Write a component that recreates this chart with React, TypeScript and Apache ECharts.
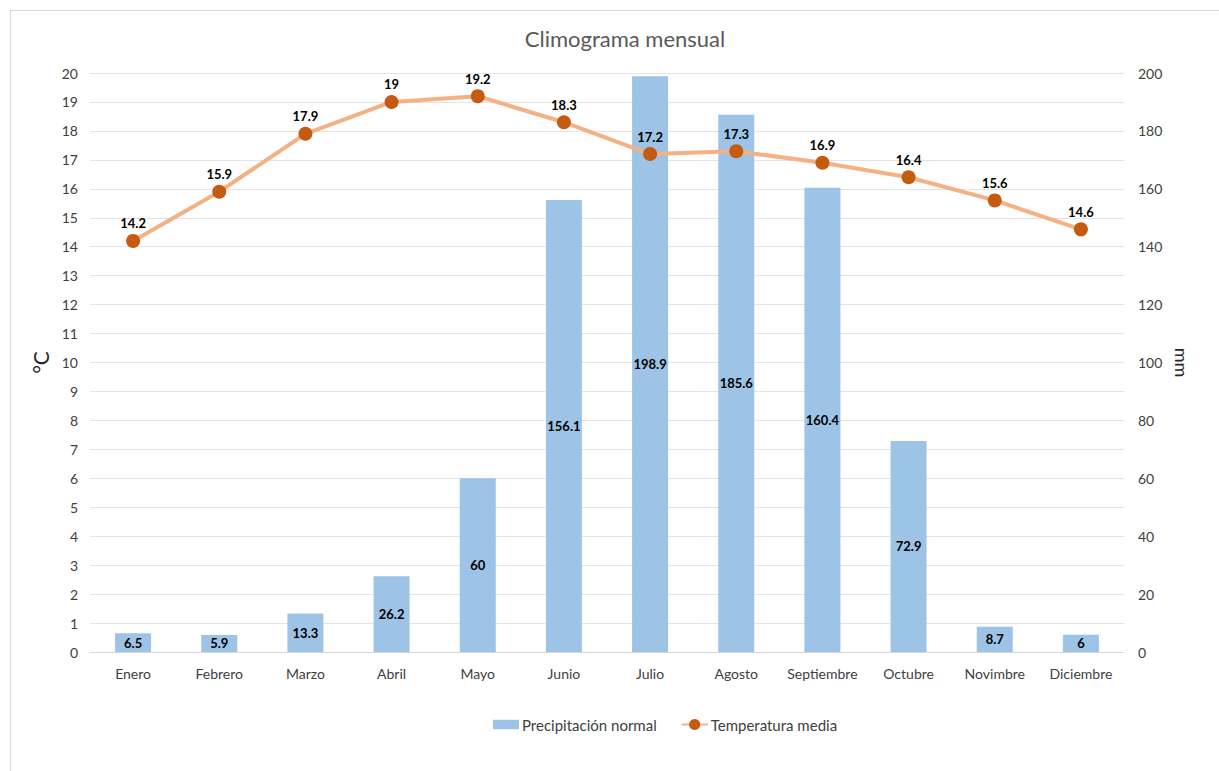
import React, { useEffect, useRef } from "react";
import * as echarts from "echarts";

const months = ["Enero", "Febrero", "Marzo", "Abril", "Mayo", "Junio", "Julio", "Agosto", "Septiembre", "Octubre", "Novimbre", "Diciembre"];
const precipitation = [6.5, 5.9, 13.3, 26.2, 60, 156.1, 198.9, 185.6, 160.4, 72.9, 8.7, 6];
const temperature = [14.2, 15.9, 17.9, 19, 19.2, 18.3, 17.2, 17.3, 16.9, 16.4, 15.6, 14.6];

const FONT = "Lato, 'Open Sans', sans-serif";

export default function App() {
  const ref = useRef<HTMLDivElement>(null);

  useEffect(() => {
    if (!ref.current) return;
    const chart = echarts.init(ref.current, null, { renderer: "svg" });
    chart.setOption({
      animation: false,
      backgroundColor: "#ffffff",
      textStyle: { fontFamily: FONT },
      graphic: [
        {
          type: "rect",
          shape: { x: 10.5, y: 10.5, width: 1215, height: 770 },
          style: { fill: "none", stroke: "#d9d9d9", lineWidth: 1 },
          silent: true,
        },
      ],
      title: {
        text: "Climograma mensual",
        left: 620,
        textAlign: "center",
        top: 22,
        textStyle: { fontFamily: FONT, fontSize: 22, fontWeight: "normal", color: "#595959" },
      },
      legend: {
        bottom: 34,
        left: 488,
        itemGap: 24,
        itemWidth: 26,
        itemHeight: 14,
        textStyle: { fontFamily: FONT, fontSize: 15, color: "#404040", padding: [0, 0, 0, -2] },
        data: [
          { name: "Precipitación normal", icon: "path://M0,0 H22 V8 H0 Z", itemStyle: { color: "#9dc3e6" } },
          { name: "Temperatura media" },
        ],
      },
      grid: { left: 90, right: 95, top: 73, bottom: 119 },
      xAxis: {
        type: "category",
        data: months,
        axisLine: { show: true, lineStyle: { color: "#d9d9d9" } },
        axisTick: { show: false },
        axisLabel: { interval: 0, fontFamily: FONT, fontSize: 14, color: "#404040", margin: 14 },
      },
      yAxis: [
        {
          type: "value",
          name: "°C",
          nameLocation: "middle",
          nameGap: 32,
          nameRotate: 90,
          nameTextStyle: { fontFamily: FONT, fontSize: 21, color: "#262626" },
          min: 0,
          max: 20,
          interval: 1,
          axisLine: { show: false },
          axisTick: { show: false },
          axisLabel: { fontFamily: FONT, fontSize: 14, color: "#404040", margin: 12 },
          splitLine: { lineStyle: { color: "#e4e4e4", width: 1 } },
        },
        {
          type: "value",
          name: "mm",
          nameLocation: "middle",
          nameGap: 36,
          nameRotate: -90,
          nameTextStyle: { fontFamily: FONT, fontSize: 18, color: "#262626" },
          min: 0,
          max: 200,
          interval: 20,
          axisLine: { show: false },
          axisTick: { show: false },
          axisLabel: { fontFamily: FONT, fontSize: 14, color: "#404040", margin: 14 },
          splitLine: { show: false },
        },
      ],
      series: [
        {
          name: "Precipitación normal",
          type: "bar",
          yAxisIndex: 1,
          data: precipitation,
          barWidth: 36,
          itemStyle: { color: "#9dc3e6" },
          label: {
            show: true,
            position: "inside",
            fontFamily: FONT,
            fontSize: 13,
            fontWeight: "bold",
            color: "#000000",
          },
        },
        {
          name: "Temperatura media",
          type: "line",
          yAxisIndex: 0,
          data: temperature,
          symbol: "circle",
          symbolSize: 14,
          lineStyle: { color: "#f4b183", width: 4 },
          itemStyle: { color: "#c55a11" },
          label: {
            show: true,
            position: "top",
            distance: 4,
            fontFamily: FONT,
            fontSize: 13,
            fontWeight: "bold",
            color: "#000000",
          },
          z: 3,
        },
      ],
    });
    return () => chart.dispose();
  }, []);

  return (
    <div
      ref={ref}
      style={{ position: "fixed", left: 0, top: 0, width: 1219, height: 771 }}
    />
  );
}
